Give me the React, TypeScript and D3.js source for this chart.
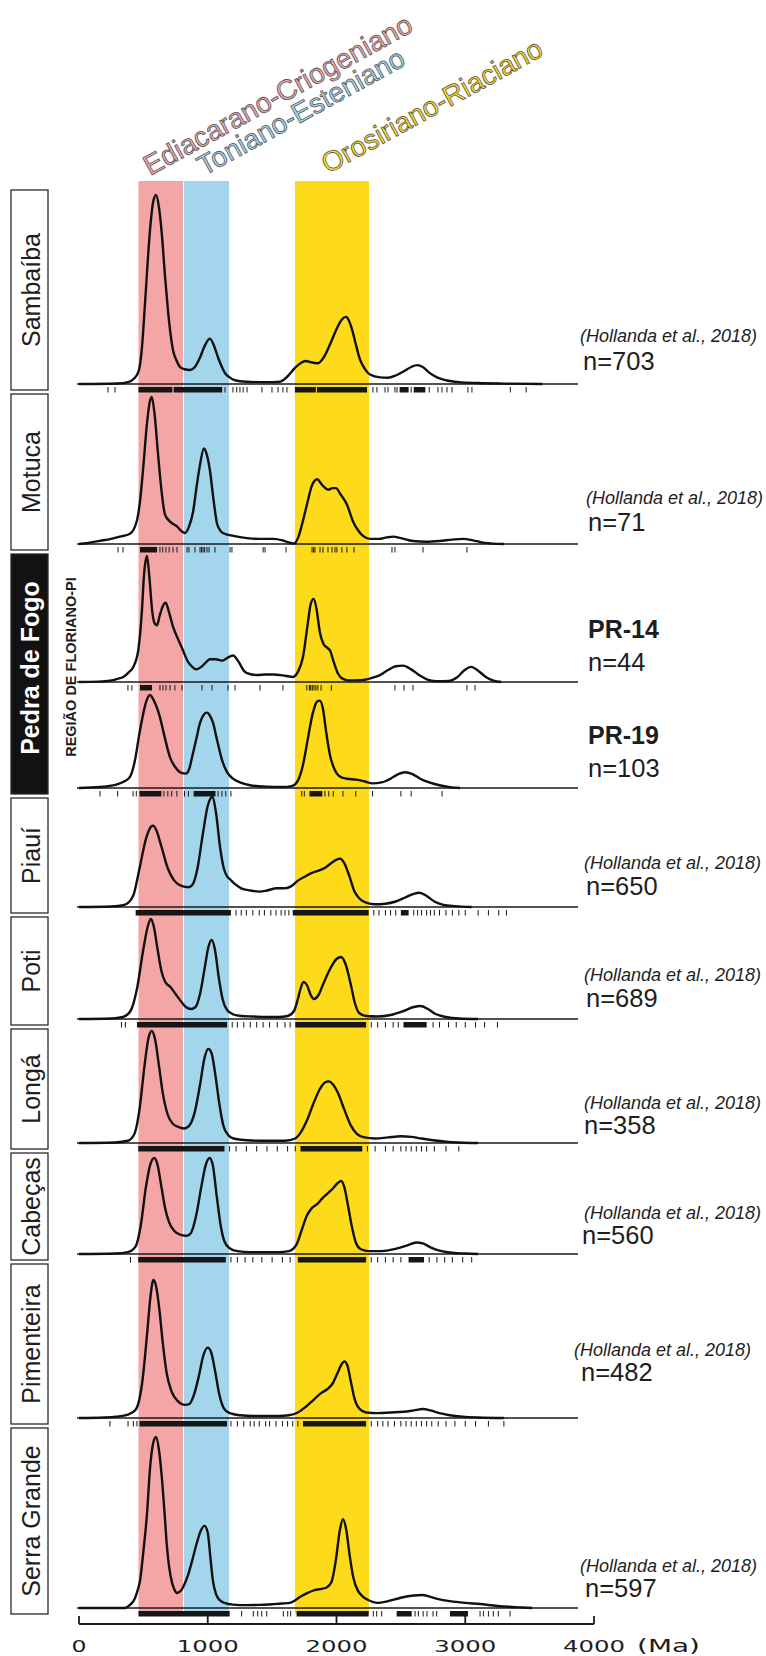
import React from 'react';
import * as d3 from 'd3';

// ---- Age axis (Ma) ----
const ageTicks = [0, 1000, 2000, 3000, 4000];
const ageDomain = [0, 4000];

// ---- Shaded geochronological intervals (Ma) ----
const intervalNames = ['Ediacarano-Criogeniano', 'Toniano-Esteniano', 'Orosiriano-Riaciano'];
const intervalStart = [462, 815, 1677];
const intervalEnd = [808, 1165, 2252];

// ---- Units / samples, top to bottom ----
const unitNames = ['Sambaíba', 'Motuca', 'Pedra de Fogo', 'Pedra de Fogo', 'Piauí', 'Poti', 'Longá', 'Cabeças', 'Pimenteira', 'Serra Grande'];
const sampleIds = ['', '', 'PR-14', 'PR-19', '', '', '', '', '', ''];
const sampleCounts = [703, 71, 44, 103, 650, 689, 358, 560, 482, 597];
const sources = ['(Hollanda et al., 2018)', '(Hollanda et al., 2018)', '', '', '(Hollanda et al., 2018)', '(Hollanda et al., 2018)', '(Hollanda et al., 2018)', '(Hollanda et al., 2018)', '(Hollanda et al., 2018)', '(Hollanda et al., 2018)'];

// ---- Relative probability density, [age Ma, density] ----
const sambaibaCurve = [[0,0],[300,0.003],[381,0.01],[430,0.03],[466,0.074],[490,0.2],[513,0.43],[551,0.81],[575,0.96],[598,1.0],[620,0.94],[645,0.78],[668,0.57],[691,0.39],[710,0.27],[730,0.18],[760,0.12],[784,0.09],[820,0.078],[862,0.074],[900,0.09],[940,0.14],[975,0.2],[1017,0.24],[1050,0.2],[1080,0.14],[1110,0.09],[1134,0.058],[1170,0.035],[1212,0.02],[1300,0.012],[1400,0.01],[1500,0.01],[1561,0.012],[1615,0.037],[1677,0.085],[1720,0.11],[1760,0.122],[1800,0.115],[1856,0.11],[1900,0.14],[1950,0.21],[2000,0.29],[2040,0.34],[2074,0.355],[2100,0.33],[2120,0.29],[2150,0.21],[2182,0.13],[2220,0.08],[2260,0.05],[2338,0.035],[2400,0.033],[2460,0.045],[2530,0.07],[2580,0.09],[2626,0.1],[2670,0.09],[2720,0.06],[2780,0.035],[2850,0.02],[2950,0.01],[3100,0.005],[3300,0.002],[3600,0]];
const motucaCurve = [[0,0],[60,0.005],[150,0.02],[250,0.035],[318,0.05],[396,0.07],[450,0.16],[475,0.3],[497,0.5],[528,0.82],[548,0.96],[565,1.0],[585,0.9],[614,0.61],[640,0.37],[668,0.2],[710,0.15],[761,0.12],[800,0.085],[823,0.075],[855,0.12],[886,0.22],[915,0.4],[940,0.54],[970,0.65],[995,0.6],[1017,0.5],[1045,0.3],[1072,0.14],[1095,0.095],[1118,0.075],[1200,0.055],[1305,0.04],[1400,0.035],[1507,0.035],[1580,0.025],[1615,0.015],[1670,0.003],[1705,0.05],[1740,0.16],[1771,0.27],[1810,0.4],[1850,0.44],[1890,0.4],[1936,0.37],[1970,0.38],[1996,0.38],[2030,0.34],[2080,0.27],[2130,0.15],[2170,0.09],[2206,0.055],[2260,0.035],[2330,0.035],[2390,0.045],[2440,0.05],[2500,0.04],[2594,0.02],[2700,0.015],[2800,0.02],[2900,0.03],[2983,0.035],[3060,0.025],[3150,0.008],[3300,0]];
const pr14Curve = [[0,0],[150,0.003],[240,0.01],[300,0.025],[344,0.04],[390,0.08],[422,0.12],[460,0.25],[489,0.57],[505,0.85],[528,1.0],[545,0.85],[570,0.55],[590,0.46],[606,0.45],[625,0.52],[650,0.6],[673,0.63],[700,0.55],[730,0.44],[765,0.35],[800,0.27],[847,0.16],[880,0.12],[909,0.1],[950,0.12],[990,0.16],[1017,0.18],[1060,0.18],[1111,0.17],[1150,0.19],[1196,0.21],[1240,0.16],[1280,0.09],[1305,0.07],[1382,0.055],[1450,0.06],[1507,0.06],[1600,0.05],[1662,0.04],[1700,0.08],[1740,0.2],[1775,0.45],[1800,0.62],[1822,0.66],[1845,0.58],[1870,0.4],[1900,0.3],[1930,0.27],[1950,0.25],[1975,0.17],[2010,0.07],[2050,0.025],[2100,0.012],[2200,0.015],[2300,0.04],[2338,0.055],[2400,0.095],[2460,0.125],[2516,0.13],[2580,0.1],[2650,0.05],[2720,0.015],[2780,0.006],[2870,0.008],[2940,0.04],[2990,0.09],[3045,0.12],[3100,0.09],[3160,0.04],[3220,0.01],[3280,0]];
const pr19Curve = [[0,0],[163,0.01],[250,0.025],[295,0.04],[350,0.07],[396,0.12],[435,0.3],[465,0.55],[489,0.73],[520,0.92],[551,1.0],[585,0.93],[629,0.76],[665,0.55],[707,0.33],[750,0.22],[800,0.16],[830,0.155],[855,0.2],[878,0.33],[910,0.52],[940,0.7],[970,0.79],[994,0.81],[1020,0.77],[1041,0.7],[1075,0.5],[1111,0.3],[1150,0.17],[1196,0.1],[1250,0.06],[1328,0.03],[1450,0.015],[1584,0.01],[1650,0.02],[1700,0.08],[1740,0.25],[1780,0.55],[1815,0.8],[1850,0.93],[1870,0.94],[1895,0.85],[1920,0.6],[1950,0.35],[1985,0.2],[2020,0.13],[2080,0.1],[2150,0.09],[2220,0.07],[2280,0.05],[2350,0.06],[2420,0.1],[2480,0.15],[2532,0.17],[2590,0.15],[2650,0.1],[2720,0.06],[2800,0.03],[2880,0.01],[2960,0]];
const piauiCurve = [[0,0],[250,0.005],[353,0.02],[420,0.1],[470,0.35],[520,0.62],[560,0.73],[575,0.74],[600,0.7],[640,0.55],[690,0.35],[740,0.24],[800,0.19],[850,0.18],[880,0.2],[920,0.35],[960,0.65],[1000,0.92],[1035,1.0],[1065,0.85],[1095,0.55],[1125,0.35],[1150,0.28],[1175,0.25],[1210,0.21],[1260,0.17],[1330,0.15],[1400,0.14],[1460,0.15],[1536,0.17],[1600,0.17],[1650,0.19],[1700,0.24],[1760,0.28],[1810,0.31],[1860,0.33],[1915,0.36],[1960,0.4],[2000,0.43],[2028,0.44],[2060,0.4],[2100,0.28],[2140,0.14],[2176,0.08],[2230,0.04],[2300,0.025],[2380,0.03],[2460,0.05],[2540,0.09],[2600,0.12],[2645,0.13],[2700,0.1],[2760,0.05],[2830,0.02],[2920,0.008],[3050,0]];
const potiCurve = [[0,0],[250,0.005],[340,0.02],[400,0.08],[450,0.3],[500,0.7],[535,0.93],[558,1.0],[580,0.93],[610,0.7],[640,0.48],[670,0.37],[710,0.32],[750,0.25],[790,0.18],[830,0.12],[870,0.1],[905,0.12],[940,0.25],[975,0.5],[1005,0.72],[1030,0.79],[1055,0.7],[1085,0.42],[1115,0.2],[1150,0.09],[1200,0.045],[1260,0.03],[1350,0.025],[1450,0.02],[1550,0.02],[1620,0.03],[1670,0.08],[1700,0.2],[1720,0.3],[1745,0.37],[1770,0.34],[1800,0.24],[1825,0.2],[1860,0.24],[1900,0.36],[1950,0.5],[2000,0.6],[2036,0.62],[2070,0.55],[2110,0.35],[2145,0.15],[2176,0.06],[2230,0.03],[2320,0.025],[2420,0.04],[2520,0.08],[2600,0.12],[2653,0.13],[2710,0.1],[2770,0.05],[2850,0.02],[2950,0.005],[3100,0]];
const longaCurve = [[0,0],[280,0.005],[380,0.02],[430,0.08],[470,0.3],[510,0.7],[540,0.94],[565,1.0],[590,0.93],[620,0.7],[650,0.45],[690,0.25],[730,0.17],[780,0.14],[820,0.13],[860,0.16],[900,0.28],[940,0.52],[975,0.76],[1005,0.84],[1030,0.8],[1060,0.6],[1090,0.35],[1120,0.16],[1160,0.07],[1200,0.04],[1300,0.025],[1400,0.02],[1500,0.02],[1600,0.02],[1680,0.04],[1720,0.09],[1770,0.2],[1820,0.35],[1870,0.48],[1910,0.54],[1940,0.55],[1975,0.52],[2010,0.45],[2060,0.3],[2110,0.16],[2160,0.08],[2217,0.05],[2300,0.04],[2400,0.05],[2500,0.06],[2580,0.055],[2660,0.04],[2750,0.025],[2850,0.012],[2950,0.005],[3100,0]];
const cabecasCurve = [[0,0],[280,0.005],[380,0.02],[440,0.08],[480,0.3],[520,0.7],[555,0.94],[585,1.0],[610,0.93],[640,0.7],[670,0.47],[700,0.33],[740,0.24],[790,0.2],[840,0.19],[870,0.22],[910,0.4],[950,0.7],[985,0.93],[1015,1.0],[1040,0.92],[1070,0.6],[1100,0.3],[1130,0.13],[1170,0.06],[1230,0.03],[1330,0.02],[1450,0.02],[1550,0.02],[1630,0.03],[1690,0.1],[1730,0.25],[1770,0.4],[1810,0.48],[1850,0.52],[1890,0.58],[1930,0.63],[1970,0.68],[2010,0.74],[2036,0.76],[2060,0.7],[2090,0.5],[2120,0.28],[2150,0.12],[2190,0.05],[2250,0.03],[2350,0.03],[2450,0.05],[2550,0.09],[2620,0.12],[2670,0.11],[2730,0.07],[2800,0.035],[2880,0.015],[3000,0.005],[3100,0]];
const pimenteiraCurve = [[0,0],[200,0.004],[290,0.01],[380,0.025],[440,0.06],[490,0.25],[530,0.62],[555,0.88],[578,1.0],[600,0.95],[625,0.78],[650,0.55],[680,0.33],[720,0.19],[770,0.12],[820,0.095],[855,0.1],[890,0.16],[930,0.3],[965,0.45],[1000,0.51],[1025,0.48],[1055,0.35],[1090,0.17],[1125,0.07],[1170,0.035],[1250,0.02],[1350,0.015],[1450,0.015],[1550,0.015],[1630,0.02],[1700,0.04],[1760,0.08],[1820,0.13],[1880,0.18],[1930,0.21],[1970,0.25],[2010,0.33],[2040,0.39],[2060,0.41],[2085,0.38],[2110,0.27],[2140,0.14],[2175,0.07],[2230,0.04],[2320,0.035],[2420,0.04],[2520,0.045],[2600,0.055],[2670,0.065],[2730,0.055],[2800,0.035],[2880,0.02],[2980,0.01],[3100,0.004],[3300,0]];
const serraGrandeCurve = [[0,0],[357,0],[396,0.018],[430,0.05],[450,0.09],[474,0.16],[500,0.33],[528,0.55],[551,0.81],[575,0.96],[598,1.0],[620,0.93],[645,0.75],[665,0.55],[683,0.36],[700,0.24],[722,0.15],[740,0.11],[760,0.088],[790,0.1],[820,0.14],[850,0.2],[880,0.28],[915,0.38],[945,0.45],[975,0.48],[1000,0.44],[1020,0.3],[1040,0.16],[1065,0.08],[1095,0.045],[1130,0.03],[1196,0.02],[1300,0.017],[1406,0.018],[1500,0.022],[1580,0.026],[1639,0.03],[1680,0.045],[1716,0.064],[1780,0.09],[1830,0.105],[1872,0.11],[1924,0.12],[1960,0.15],[1995,0.28],[2025,0.45],[2050,0.52],[2075,0.46],[2100,0.32],[2130,0.18],[2167,0.1],[2200,0.07],[2250,0.045],[2314,0.03],[2400,0.04],[2500,0.06],[2600,0.073],[2664,0.076],[2730,0.065],[2800,0.05],[2881,0.04],[3000,0.03],[3115,0.023],[3250,0.012],[3449,0.003],[3520,0]];

// ---- Individual detrital zircon ages (Ma): dense ranges + isolated grains ----
const sambaibaRugRuns = [[462,725],[735,1112],[1677,1840],[1848,2237],[2490,2560],[2600,2690]];
const sambaibaRugTicks = [225,280,1134,1196,1225,1250,1275,1305,1421,1499,1546,1584,1615,2283,2314,2377,2400,2454,2470,2580,2720,2788,2819,2858,2897,3021,3052,3350,3473];
const motucaRugRuns = [[474,606]];
const motucaRugTicks = [303,342,629,650,675,700,730,761,839,854,901,940,952,964,976,994,1010,1056,1173,1188,1430,1445,1608,1810,1822,1833,1872,1895,1934,1965,1988,2003,2042,2081,2136,2431,2454,2672,3013];
const pr14RugRuns = [[474,567]];
const pr14RugTicks = [380,411,629,652,676,707,745,800,955,1033,1157,1212,1406,1584,1770,1790,1800,1812,1825,1840,1855,1880,1960,2454,2524,2594,3013,3076];
const pr19RugRuns = [[470,640],[890,1060],[1790,1890]];
const pr19RugTicks = [163,300,420,445,660,690,720,760,820,850,1080,1110,1140,1180,1730,1750,1910,1940,1975,2050,2150,2280,2500,2580,2820];
const piauiRugRuns = [[440,1180],[1660,2250],[2500,2560]];
const piauiRugTicks = [1220,1260,1300,1350,1400,1440,1490,1530,1570,1600,1630,2290,2330,2380,2420,2460,2600,2630,2660,2700,2730,2760,2800,2850,2900,2950,3000,3100,3180,3260,3320];
const potiRugRuns = [[450,1150],[1680,2230],[2520,2700]];
const potiRugTicks = [330,360,1190,1230,1280,1330,1380,1430,1480,1540,1600,1640,2270,2320,2380,2440,2480,2750,2800,2870,2930,3000,3080,3150,3250];
const longaRugRuns = [[460,1130],[1720,2200]];
const longaRugTicks = [1170,1220,1300,1380,1460,1540,1620,1680,2240,2300,2380,2440,2500,2540,2580,2620,2660,2700,2760,2850,2950];
const cabecasRugRuns = [[460,1140],[1700,2230],[2560,2680]];
const cabecasRugTicks = [400,1180,1230,1290,1350,1420,1500,1580,1640,2270,2320,2380,2440,2500,2720,2780,2840,2900,2980,3050];
const pimenteiraRugRuns = [[470,1150],[1740,2230]];
const pimenteiraRugTicks = [240,381,422,450,1180,1230,1280,1330,1360,1400,1450,1480,1530,1580,1620,1660,1700,2270,2320,2360,2400,2450,2500,2540,2580,2620,2660,2700,2740,2790,2850,2920,3000,3080,3180,3300];
const serraGrandeRugRuns = [[462,1170],[1690,2250],[2467,2584],[2881,3021]];
const serraGrandeRugTicks = [1263,1354,1388,1419,1458,1587,1621,1644,2286,2312,2351,2610,2636,2673,2703,2750,2778,3115,3141,3180,3218,3257,3348];

const curves = [sambaibaCurve, motucaCurve, pr14Curve, pr19Curve, piauiCurve, potiCurve, longaCurve, cabecasCurve, pimenteiraCurve, serraGrandeCurve];
const rugRuns = [sambaibaRugRuns, motucaRugRuns, pr14RugRuns, pr19RugRuns, piauiRugRuns, potiRugRuns, longaRugRuns, cabecasRugRuns, pimenteiraRugRuns, serraGrandeRugRuns];
const rugTicks = [sambaibaRugTicks, motucaRugTicks, pr14RugTicks, pr19RugTicks, piauiRugTicks, potiRugTicks, longaRugTicks, cabecasRugTicks, pimenteiraRugTicks, serraGrandeRugTicks];

// ---- Layout ----
const W = 766;
const H = 1656;
const plotLeft = 79;
const plotRight = 594;
const lineLeft = 77;
const lineRight = 578;
const baselines = [384, 544, 682, 788, 907, 1019, 1143, 1254, 1418, 1608];
const peakHeights = [189, 147, 126, 93, 110, 100, 112, 96, 138, 171];
const sourceOffset = [42, 40, 0, 0, 38, 38, 34, 35, 62, 36];
const countOffset = [14, 13, 0, 0, 12, 12, 9, 10, 37, 11];
const sourceX = [580, 586, 0, 0, 584, 584, 584, 584, 574, 580];
const countX = [583, 588, 0, 0, 586, 586, 584, 582, 581, 585];
const bandTop = 181;
const bandBottom = 1614;
const axisY = 1624;
const boxLeft = 11;
const boxRight = 48;

const bandColors = ['#f4a6a7', '#a3d5ec', '#fedb1a'];
const headerAnchors = [[150, 176], [204, 176], [328, 174]];
const headerAngle = -28.8;
const FONT = "'Liberation Sans', Arial, Helvetica, sans-serif";

export default function App() {
  const x = d3.scaleLinear().domain(ageDomain).range([plotLeft, plotRight]);

  const panelY = (i: number) =>
    d3.scaleLinear().domain([0, 1]).range([baselines[i], baselines[i] - peakHeights[i]]);

  // Left-hand unit boxes (Pedra de Fogo spans both PR samples)
  const boxes: { name: string; top: number; bottom: number; dark: boolean }[] = [];
  unitNames.forEach((name, i) => {
    const top = i === 0 ? 190 : baselines[i - 1] + 10;
    const bottom = baselines[i] + 6;
    const last = boxes[boxes.length - 1];
    if (last && last.name === name) {
      last.bottom = bottom;
    } else {
      boxes.push({ name, top, bottom, dark: name === 'Pedra de Fogo' });
    }
  });

  return (
    <svg
      width={W}
      height={H}
      viewBox={`0 0 ${W} ${H}`}
      style={{ position: 'absolute', left: 0, top: 0, background: '#fff' }}
      fontFamily={FONT}
    >
      <rect x={0} y={0} width={W} height={H} fill="#fff" />

      {/* interval bands */}
      {intervalNames.map((n, k) => (
        <rect
          key={n}
          x={x(intervalStart[k])}
          y={bandTop}
          width={x(intervalEnd[k]) - x(intervalStart[k])}
          height={bandBottom - bandTop}
          fill={bandColors[k]}
        />
      ))}

      {/* interval names */}
      {intervalNames.map((n, k) => (
        <text
          key={'h' + n}
          transform={`translate(${headerAnchors[k][0]},${headerAnchors[k][1]}) rotate(${headerAngle})`}
          fontSize={28}
          fill={bandColors[k]}
          stroke="#555"
          strokeWidth={0.8}
        >
          {n}
        </text>
      ))}

      {/* panels */}
      {curves.map((curve, i) => {
        const y = panelY(i);
        const line = d3
          .line<number[]>()
          .x((d) => x(d[0]))
          .y((d) => y(d[1]))
          .curve(d3.curveMonotoneX);
        const b = baselines[i];
        return (
          <g key={'p' + i}>
            <line x1={lineLeft} x2={lineRight} y1={b} y2={b} stroke="#1a1a1a" strokeWidth={1.6} />
            {rugRuns[i].map((r, j) => (
              <rect key={'r' + j} x={x(r[0])} y={b + 3} width={x(r[1]) - x(r[0])} height={5.5} fill="#161616" />
            ))}
            {rugTicks[i].map((a, j) => (
              <line key={'t' + j} x1={x(a)} x2={x(a)} y1={b + 3} y2={b + 8.5} stroke="#161616" strokeWidth={1} />
            ))}
            <path d={line(curve) || ''} fill="none" stroke="#111" strokeWidth={2.4} strokeLinejoin="round" />
          </g>
        );
      })}

      {/* right-hand labels */}
      {sampleCounts.map((c, i) => {
        const b = baselines[i];
        if (sampleIds[i]) {
          return (
            <g key={'l' + i} fill="#1e1e1e">
              <text x={588} y={b - 44} fontSize={25} fontWeight="bold">{sampleIds[i]}</text>
              <text x={588} y={b - 11} fontSize={25.5}>{`n=${c}`}</text>
            </g>
          );
        }
        return (
          <g key={'l' + i} fill="#1e1e1e">
            <text x={sourceX[i]} y={b - sourceOffset[i]} fontSize={18} fontStyle="italic">{sources[i]}</text>
            <text x={countX[i]} y={b - countOffset[i]} fontSize={25.5}>{`n=${c}`}</text>
          </g>
        );
      })}

      {/* unit boxes */}
      {boxes.map((bx) => {
        const cy = bx.dark ? 668 : (bx.top + bx.bottom) / 2;
        return (
          <g key={bx.name}>
            <rect
              x={boxLeft}
              y={bx.top}
              width={boxRight - boxLeft}
              height={bx.bottom - bx.top}
              fill={bx.dark ? '#121212' : '#fff'}
              stroke="#2a2a2a"
              strokeWidth={1.3}
            />
            <text
              transform={`translate(${bx.dark ? 39 : 40},${cy}) rotate(-90)`}
              textAnchor="middle"
              fontSize={25}
              fontWeight={bx.dark ? 'bold' : 'normal'}
              fill={bx.dark ? '#fff' : '#1e1e1e'}
            >
              {bx.name}
            </text>
          </g>
        );
      })}
      <text
        transform="translate(76,667) rotate(-90)"
        textAnchor="middle"
        fontSize={14.5}
        fontWeight="bold"
        fill="#1e1e1e"
      >
        REGIÃO DE FLORIANO-PI
      </text>

      {/* age axis */}
      <g>
        <line x1={x(ageDomain[0])} x2={x(ageDomain[1])} y1={axisY} y2={axisY} stroke="#1a1a1a" strokeWidth={1.8} />
        {ageTicks.map((t) => (
          <g key={'a' + t}>
            <line x1={x(t)} x2={x(t)} y1={axisY - 8} y2={axisY} stroke="#1a1a1a" strokeWidth={1.8} />
            <text
              x={x(t)}
              y={1652}
              textAnchor="middle"
              fontFamily="'DejaVu Sans', sans-serif"
              fontSize={16}
              fill="#1e1e1e"
              textLength={t === 0 ? 15 : 62}
              lengthAdjust="spacingAndGlyphs"
            >
              {String(t)}
            </text>
          </g>
        ))}
        <text
          x={637}
          y={1652}
          fontFamily="'DejaVu Sans', sans-serif"
          fontSize={17}
          fill="#1e1e1e"
          textLength={63}
          lengthAdjust="spacingAndGlyphs"
        >
          (Ma)
        </text>
      </g>
    </svg>
  );
}
